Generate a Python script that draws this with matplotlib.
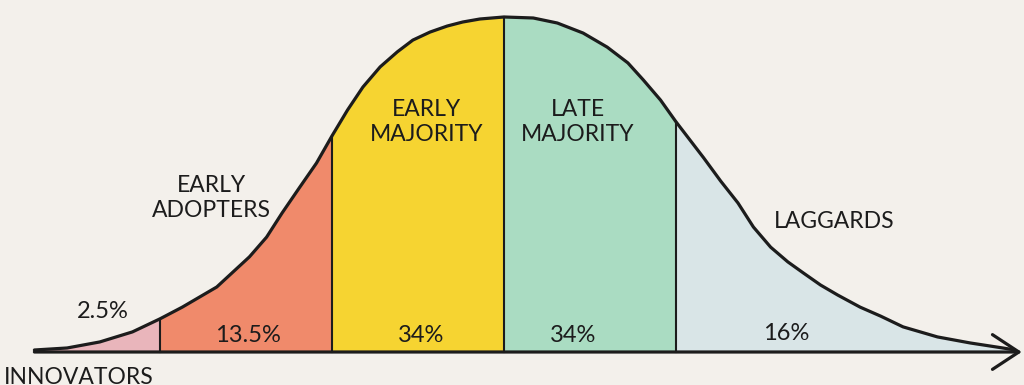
import matplotlib.pyplot as plt
import numpy as np

# curve: x in standard deviations, height relative to the peak
curve_x = [-2.73, -2.54, -2.35, -2.16, -2.0, -1.87, -1.67, -1.48, -1.38, -1.29,
           -1.19, -1.09, -1.0, -0.91, -0.82, -0.72, -0.62, -0.53, -0.43, -0.33,
           -0.24, -0.14, 0.0, 0.17, 0.31, 0.46, 0.60, 0.72, 0.81, 0.91,
           1.0, 1.16, 1.26, 1.36, 1.45, 1.55, 1.65, 1.74, 1.84, 1.94,
           2.07, 2.19, 2.32, 2.52, 2.71, 2.90, 2.97]
curve_h = [0.006, 0.012, 0.030, 0.060, 0.099, 0.134, 0.194, 0.284, 0.343, 0.415,
           0.490, 0.564, 0.645, 0.722, 0.791, 0.851, 0.896, 0.931, 0.955, 0.973,
           0.985, 0.994, 1.0, 0.997, 0.982, 0.952, 0.910, 0.863, 0.812, 0.752,
           0.687, 0.580, 0.510, 0.445, 0.373, 0.313, 0.269, 0.236, 0.200, 0.170,
           0.134, 0.107, 0.075, 0.045, 0.027, 0.012, 0.006]

# segment edges (sigma) and labels
edges = [-2.73, -2.0, -1.0, 0.0, 1.0, 2.97]
groups = ["INNOVATORS", "EARLY\nADOPTERS", "EARLY\nMAJORITY", "LATE\nMAJORITY", "LAGGARDS"]
shares = ["2.5%", "13.5%", "34%", "34%", "16%"]
colors = ["#e9b5bb", "#f08a6b", "#f6d431", "#aadcc2", "#d9e5e7"]

# label positions (sigma, relative height)
group_pos = [(-2.47, -0.075), (-1.70, 0.46), (-0.45, 0.687), (0.43, 0.687), (1.92, 0.39)]
share_pos = [(-2.33, 0.12), (-1.49, 0.05), (-0.48, 0.05), (0.40, 0.05), (1.64, 0.054)]

bg = "#f3f0eb"
ink = "#1c1c1c"
plt.rcParams["font.family"] = ["Lato", "DejaVu Sans"]

fig = plt.figure(figsize=(10.24, 3.85), dpi=100, facecolor=bg)
ax = fig.add_axes([0, 0, 1, 1])
ax.set_facecolor(bg)

cx = np.array(curve_x)
ch = np.array(curve_h)

for i in range(len(groups)):
    lo, hi = edges[i], edges[i + 1]
    mask = (cx >= lo - 1e-9) & (cx <= hi + 1e-9)
    ax.fill_between(cx[mask], 0, ch[mask], color=colors[i], lw=0, zorder=1)

# divider lines
for e in edges[1:-1]:
    ax.plot([e, e], [0, np.interp(e, cx, ch)], color=ink, lw=1.5, zorder=2)

ax.plot(cx, ch, color=ink, lw=2.3, solid_capstyle="round",
        solid_joinstyle="round", zorder=3)

# baseline with open arrow head
ax.annotate("", xy=(3.01, 0), xytext=(-2.73, 0),
            arrowprops=dict(arrowstyle="->,head_length=1.9,head_width=1.25",
                            color=ink, lw=2.3, shrinkA=0, shrinkB=0),
            zorder=4)

for name, (x, y) in zip(groups, group_pos):
    ax.text(x, y, name, ha="center", va="center", fontsize=16.5,
            color=ink, linespacing=1.25, zorder=5)
for s, (x, y) in zip(shares, share_pos):
    ax.text(x, y, s, ha="center", va="center", fontsize=17, color=ink, zorder=5)

ax.set_xlim(-2.930, 3.023)
ax.set_ylim(-0.0985, 1.0507)
ax.axis("off")

fig.savefig("out.png", dpi=100, facecolor=bg)
